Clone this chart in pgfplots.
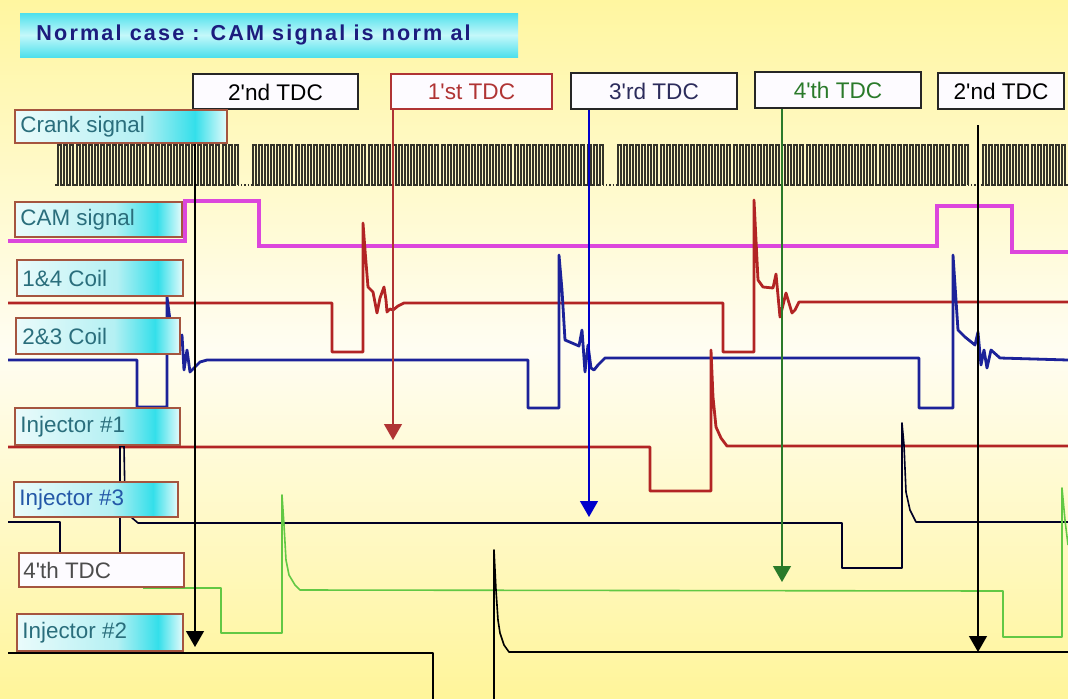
\documentclass[border=0pt]{standalone}
\usepackage{pgfplots}
\pgfplotsset{compat=1.18}
\usepackage{fontspec}
\setmainfont{Liberation Sans}
\newfontfamily\titlefont[LetterSpace=10]{Liberation Sans}
\usetikzlibrary{arrows.meta}
\definecolor{bgtop}{HTML}{FFF6A0}
\definecolor{bgmid}{HTML}{FFFDF2}
\definecolor{bgbot}{HTML}{FFF59A}
\definecolor{lblA}{HTML}{EAFBFB}
\definecolor{lblB}{HTML}{B4F0F3}
\definecolor{lblC}{HTML}{34DFEA}
\definecolor{lblD}{HTML}{E6FBFB}
\definecolor{lblborder}{HTML}{A5553F}
\definecolor{lbltext}{HTML}{2A6E7C}
\definecolor{inj3text}{HTML}{2458A8}
\definecolor{ttlcyan}{HTML}{4EE0EC}
\definecolor{ttlmid}{HTML}{C4F8FA}
\definecolor{ttltext}{HTML}{1C1C7E}
\definecolor{camc}{HTML}{DC46DC}
\definecolor{coilred}{HTML}{B22424}
\definecolor{coilblue}{HTML}{1C2299}
\definecolor{injgreen}{HTML}{62C844}
\definecolor{crankc}{HTML}{34342A}
\definecolor{tdcred}{HTML}{B03434}
\definecolor{tdcgreen}{HTML}{2A7A2A}
\definecolor{tdcnavy}{HTML}{2C2C5C}
\definecolor{boxfill}{HTML}{FDFBFF}
\newcommand{\q}{\textquotesingle}
\begin{document}
\begin{tikzpicture}
\begin{axis}[
  scale only axis, width=534pt, height=349pt,
  xmin=0, xmax=1068, ymin=0, ymax=698, y dir=reverse,
  hide axis, clip=true,
]
% background
\path[top color=bgtop, bottom color=bgbot, middle color=bgmid] (axis cs:0,0) rectangle (axis cs:1068,698);

% ---- Crank signal (60-2 teeth) ----
\addplot[const plot, crankc, line width=0.7pt] coordinates {
(55,185)(58,145)(61,185)(64,145)(67,185)(70,145)(73,185)(77,145)(80,185)(83,145)(86,185)(89,145)(92,185)(95,145)(98,185)(101,145)(104,185)(107,145)(110,185)(113,145)(116,185)(119,145)(122,185)(125,145)(128,185)(131,145)(134,185)(137,145)(140,185)(143,145)(146,185)(150,145)(153,185)(156,145)(159,185)(162,145)(165,185)(168,145)(171,185)(174,145)(177,185)(180,145)(183,185)(186,145)(189,185)(192,145)(195,185)(198,145)(201,185)(204,145)(207,185)(210,145)(213,185)(216,145)(219,185)(223,145)(226,185)(229,145)(232,185)(235,145)(238,185)};
\addplot[const plot, crankc, line width=0.7pt] coordinates {
(252,185)(253,145)(256,185)(259,145)(262,185)(265,145)(268,185)(271,145)(274,185)(277,145)(280,185)(283,145)(286,185)(289,145)(292,185)(296,145)(299,185)(302,145)(305,185)(308,145)(311,185)(314,145)(317,185)(320,145)(323,185)(326,145)(329,185)(332,145)(335,185)(338,145)(341,185)(344,145)(347,185)(350,145)(353,185)(356,145)(359,185)(362,145)(365,185)(369,145)(372,185)(375,145)(378,185)(381,145)(384,185)(387,145)(390,185)(393,145)(396,185)(399,145)(402,185)(405,145)(408,185)(411,145)(414,185)(417,145)(420,185)(423,145)(426,185)(429,145)(432,185)(435,145)(438,185)(442,145)(445,185)(448,145)(451,185)(454,145)(457,185)(460,145)(463,185)(466,145)(469,185)(472,145)(475,185)(478,145)(481,185)(484,145)(487,185)(490,145)(493,185)(496,145)(499,185)(502,145)(505,185)(508,145)(511,185)(515,145)(518,185)(521,145)(524,185)(527,145)(530,185)(533,145)(536,185)(539,145)(542,185)(545,145)(548,185)(551,145)(554,185)(557,145)(560,185)(563,145)(566,185)(569,145)(572,185)(575,145)(578,185)(581,145)(584,185)(588,145)(591,185)(594,145)(597,185)(600,145)(603,185)};
\addplot[const plot, crankc, line width=0.7pt] coordinates {
(617,185)(618,145)(621,185)(624,145)(627,185)(630,145)(633,185)(636,145)(639,185)(642,145)(645,185)(648,145)(651,185)(654,145)(657,185)(661,145)(664,185)(667,145)(670,185)(673,145)(676,185)(679,145)(682,185)(685,145)(688,185)(691,145)(694,185)(697,145)(700,185)(703,145)(706,185)(709,145)(712,185)(715,145)(718,185)(721,145)(724,185)(727,145)(730,185)(734,145)(737,185)(740,145)(743,185)(746,145)(749,185)(752,145)(755,185)(758,145)(761,185)(764,145)(767,185)(770,145)(773,185)(776,145)(779,185)(782,145)(785,185)(788,145)(791,185)(794,145)(797,185)(800,145)(803,185)(807,145)(810,185)(813,145)(816,185)(819,145)(822,185)(825,145)(828,185)(831,145)(834,185)(837,145)(840,185)(843,145)(846,185)(849,145)(852,185)(855,145)(858,185)(861,145)(864,185)(867,145)(870,185)(873,145)(876,185)(880,145)(883,185)(886,145)(889,185)(892,145)(895,185)(898,145)(901,185)(904,145)(907,185)(910,145)(913,185)(916,145)(919,185)(922,145)(925,185)(928,145)(931,185)(934,145)(937,185)(940,145)(943,185)(946,145)(949,185)(953,145)(956,185)(959,145)(962,185)(965,145)(968,185)};
\addplot[const plot, crankc, line width=0.7pt] coordinates {
(982,185)(983,145)(986,185)(989,145)(992,185)(995,145)(998,185)(1001,145)(1004,185)(1007,145)(1010,185)(1013,145)(1016,185)(1019,145)(1022,185)(1025,145)(1028,185)(1032,145)(1035,185)(1038,145)(1041,185)(1044,145)(1047,185)(1050,145)(1053,185)(1056,145)(1059,185)(1062,145)(1065,185)(1068,185)};
\addplot[crankc, line width=0.6pt, densely dotted] coordinates {(238,185)(252,185)};
\addplot[crankc, line width=0.6pt, densely dotted] coordinates {(603,185)(617,185)};
\addplot[crankc, line width=0.6pt, densely dotted] coordinates {(968,185)(982,185)};

% ---- CAM signal ----
\addplot[camc, line width=1.6pt] coordinates {
(8,241)(185,241)(185,201)(259,201)(259,246)(937,246)(937,206)(1012,206)(1012,252)(1068,252)};

% ---- 1&4 coil ----
\addplot[coilred, line width=1.4pt, line join=round] coordinates {
(8,303)(332,303)(332,352)(363,352)(363,223)(365,250)(368,287)(373,292)(377,313)(380,298)(384,287)(386,300)(387,312)(390,309)(393,310)(398,306)(404,303)
(723,303)(723,352)(754,352)(754,200)(756,240)(758,280)(763,287)(773,288)(776,274)(780,317)(786,293)(792,313)(795,310)(799,302)(1068,302)};

% ---- 2&3 coil ----
\addplot[coilblue, line width=1.4pt, line join=round] coordinates {
(8,360)(137,360)(137,407)(167,407)(167,297)(170,320)(174,338)(180,342)(182,335)(184,370)(187,350)(190,372)(194,368)(200,362)(207,360)
(528,360)(528,408)(559,408)(559,255)(562,290)(565,340)(572,343)(579,346)(582,330)(585,372)(588,345)(591,368)(594,370)(598,365)(605,358)
(919,358)(919,408)(953,408)(953,255)(956,300)(958,330)(965,337)(975,345)(978,332)(981,365)(984,350)(987,368)(991,350)(1000,358)(1068,360)};

% ---- Injector #1 ----
\addplot[coilred, line width=1.4pt, line join=round] coordinates {
(8,447)(650,447)(650,491)(711,491)(711,350)(713,397)(716,427)(721,438)(727,446)(1068,446)};

% ---- Injector #3 ----
\addplot[black!85!blue, line width=0.8pt, line join=round] coordinates {
(8,522)(60,522)(60,565)(120,565)(120,446)(124,446)(125,500)(131,517)(138,523)(842,523)(842,568)(902,568)(902,423)(904,445)(906,492)(910,510)(916,522)(1068,522)};

% ---- 4'th TDC signal (green) ----
\addplot[injgreen, line width=0.8pt, line join=round] coordinates {
(143,588)(221,588)(221,633)(282,633)(282,495)(284,525)(286,560)(289,575)(295,585)(300,590)(1003,591)(1003,637)(1062,637)(1062,488)(1065,520)(1068,545)};

% ---- Injector #2 ----
\addplot[black, line width=0.8pt, line join=round] coordinates {
(8,653)(433,653)(433,720)(494,720)(494,550)(496,590)(498,620)(500,633)(504,645)(509,652)(1068,652)};

% ---- TDC arrows ----
\addplot[black, line width=0.6pt, -{Triangle[width=9pt,length=8pt]}] coordinates {(195,109)(195,647)};
\addplot[tdcred, line width=0.6pt, -{Triangle[width=9pt,length=8pt]}] coordinates {(393,109)(393,440)};
\addplot[blue!80!black, line width=0.6pt, -{Triangle[width=9pt,length=8pt]}] coordinates {(589,109)(589,517)};
\addplot[tdcgreen, line width=0.6pt, -{Triangle[width=9pt,length=8pt]}] coordinates {(782,108)(782,582)};
\addplot[black, line width=0.6pt, -{Triangle[width=9pt,length=8pt]}] coordinates {(978,125)(978,652)};

% ---- Title ----
\path[top color=ttlcyan, bottom color=ttlcyan, middle color=ttlmid] (axis cs:20,13) rectangle (axis cs:518,57);
\node[anchor=west, inner sep=0pt, text=ttltext, font=\titlefont\bfseries\fontsize{10.8}{12}\selectfont] at (axis cs:36,35) {Normal case : CAM signal is norm al};

% ---- TDC boxes ----
\draw[fill=boxfill, draw=black!85, line width=0.75pt] (axis cs:193,74) rectangle (axis cs:358,109);
\node[font=\fontsize{11.3}{13}\selectfont, text=black] at (axis cs:275.5,92) {2\q nd TDC};
\draw[fill=boxfill, draw=tdcred, line width=0.75pt] (axis cs:391,74) rectangle (axis cs:552,109);
\node[font=\fontsize{11.3}{13}\selectfont, text=tdcred] at (axis cs:471.5,92) {1\q st TDC};
\draw[fill=boxfill, draw=black!85, line width=0.75pt] (axis cs:571,73) rectangle (axis cs:737,109);
\node[font=\fontsize{11.3}{13}\selectfont, text=tdcnavy] at (axis cs:654,91.5) {3\q rd TDC};
\draw[fill=boxfill, draw=black!85, line width=0.75pt] (axis cs:755,72) rectangle (axis cs:921,108);
\node[font=\fontsize{11.3}{13}\selectfont, text=tdcgreen] at (axis cs:838,90.5) {4\q th TDC};
\draw[fill=boxfill, draw=black!85, line width=0.75pt] (axis cs:938,73) rectangle (axis cs:1064,109);
\node[font=\fontsize{11.3}{13}\selectfont, text=black] at (axis cs:1001,91.5) {2\q nd TDC};

% ---- Signal labels (three shaded parts + border) ----
% Crank signal
\path[left color=lblA, right color=lblB] (axis cs:15,110) rectangle (axis cs:142,143);
\path[left color=lblB, right color=lblC] (axis cs:142,110) rectangle (axis cs:195,143);
\path[left color=lblC, right color=lblD] (axis cs:195,110) rectangle (axis cs:227,143);
\draw[lblborder, line width=0.75pt] (axis cs:15,110) rectangle (axis cs:227,143);
\node[anchor=west, inner sep=0pt, text=lbltext, font=\fontsize{11.2}{12}\selectfont] at (axis cs:20,126.5) {Crank signal};
% CAM signal
\path[left color=lblA, right color=lblB] (axis cs:15,202) rectangle (axis cs:115,237);
\path[left color=lblB, right color=lblC] (axis cs:115,202) rectangle (axis cs:157,237);
\path[left color=lblC, right color=lblD] (axis cs:157,202) rectangle (axis cs:182,237);
\draw[lblborder, line width=0.75pt] (axis cs:15,202) rectangle (axis cs:182,237);
\node[anchor=west, inner sep=0pt, text=lbltext, font=\fontsize{11.2}{12}\selectfont] at (axis cs:20,219.5) {CAM signal};
% 1&4 Coil
\path[left color=lblA, right color=lblB] (axis cs:17,260) rectangle (axis cs:117,296);
\path[left color=lblB, right color=lblC] (axis cs:117,260) rectangle (axis cs:158,296);
\path[left color=lblC, right color=lblD] (axis cs:158,260) rectangle (axis cs:183,296);
\draw[lblborder, line width=0.75pt] (axis cs:17,260) rectangle (axis cs:183,296);
\node[anchor=west, inner sep=0pt, text=lbltext, font=\fontsize{11.2}{12}\selectfont] at (axis cs:22,278) {1\&4 Coil};
% 2&3 Coil
\path[left color=lblA, right color=lblB] (axis cs:16,318) rectangle (axis cs:114,354);
\path[left color=lblB, right color=lblC] (axis cs:114,318) rectangle (axis cs:155,354);
\path[left color=lblC, right color=lblD] (axis cs:155,318) rectangle (axis cs:180,354);
\draw[lblborder, line width=0.75pt] (axis cs:16,318) rectangle (axis cs:180,354);
\node[anchor=west, inner sep=0pt, text=lbltext, font=\fontsize{11.2}{12}\selectfont] at (axis cs:22,336) {2\&3 Coil};
% Injector #1
\path[left color=lblA, right color=lblB] (axis cs:15,408) rectangle (axis cs:114,445);
\path[left color=lblB, right color=lblC] (axis cs:114,408) rectangle (axis cs:155,445);
\path[left color=lblC, right color=lblD] (axis cs:155,408) rectangle (axis cs:180,445);
\draw[lblborder, line width=0.75pt] (axis cs:15,408) rectangle (axis cs:180,445);
\node[anchor=west, inner sep=0pt, text=lbltext, font=\fontsize{11.2}{12}\selectfont] at (axis cs:20,426.5) {Injector \#1};
% Injector #3
\path[left color=lblA, right color=lblB] (axis cs:14,482) rectangle (axis cs:112,517);
\path[left color=lblB, right color=lblC] (axis cs:112,482) rectangle (axis cs:153,517);
\path[left color=lblC, right color=lblD] (axis cs:153,482) rectangle (axis cs:178,517);
\draw[lblborder, line width=0.75pt] (axis cs:14,482) rectangle (axis cs:178,517);
\node[anchor=west, inner sep=0pt, text=inj3text, font=\fontsize{11.2}{12}\selectfont] at (axis cs:19,499.5) {Injector \#3};
% 4'th TDC
\draw[fill=boxfill, draw=lblborder, line width=0.75pt] (axis cs:19,553) rectangle (axis cs:184,587);
\node[anchor=west, inner sep=0pt, text=black!70, font=\fontsize{11.2}{12}\selectfont] at (axis cs:23,570) {4\q th TDC};
% Injector #2
\path[left color=lblA, right color=lblB] (axis cs:17,614) rectangle (axis cs:117,651);
\path[left color=lblB, right color=lblC] (axis cs:117,614) rectangle (axis cs:158,651);
\path[left color=lblC, right color=lblD] (axis cs:158,614) rectangle (axis cs:183,651);
\draw[lblborder, line width=0.75pt] (axis cs:17,614) rectangle (axis cs:183,651);
\node[anchor=west, inner sep=0pt, text=lbltext, font=\fontsize{11.2}{12}\selectfont] at (axis cs:22,632.5) {Injector \#2};
\end{axis}
\end{tikzpicture}
\end{document}
